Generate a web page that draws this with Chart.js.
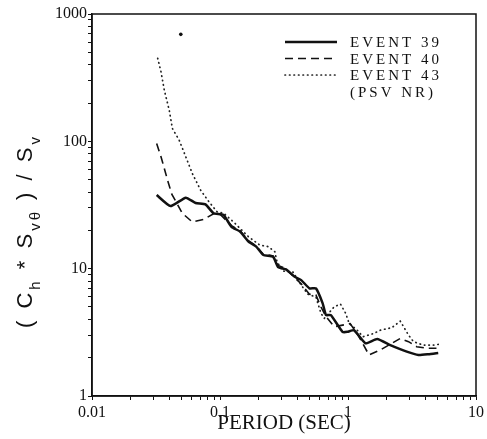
<!DOCTYPE html>
<html>
<head>
<meta charset="utf-8">
<script src="https://cdn.jsdelivr.net/npm/chart.js@4/dist/chart.umd.min.js"></script>
<style>
  html, body { margin: 0; padding: 0; background: #fff; }
  canvas { display: block; }
</style>
</head>
<body>
<canvas id="chart" width="487" height="439"></canvas>
<script>
// values (period in sec, ratio)
const period39 = [0.032, 0.041, 0.054, 0.0645, 0.077, 0.089, 0.1, 0.107, 0.123, 0.144, 0.167, 0.192, 0.218, 0.26, 0.284, 0.328, 0.383, 0.431, 0.5, 0.562, 0.634, 0.673, 0.735, 0.906, 0.989, 1.114, 1.37, 1.69, 2.14, 2.88, 3.55, 4.24, 5.07];
const ratio39 = [37.9, 31.0, 36.1, 32.8, 32.0, 27.2, 26.8, 26.4, 21.3, 19.5, 16.3, 14.9, 12.8, 12.4, 10.3, 9.87, 8.64, 8.13, 7.0, 7.0, 5.34, 4.32, 4.32, 3.19, 3.19, 3.29, 2.59, 2.80, 2.51, 2.23, 2.10, 2.13, 2.18];

const period40 = [0.032, 0.0346, 0.0367, 0.0389, 0.042, 0.0508, 0.0607, 0.0748, 0.089, 0.1, 0.123, 0.144, 0.167, 0.192, 0.218, 0.26, 0.284, 0.328, 0.383, 0.431, 0.5, 0.562, 0.615, 0.673, 0.78, 1.04, 1.2, 1.46, 1.79, 2.56, 2.97, 3.44, 4.11, 4.91];
const ratio40 = [96, 75.7, 61.4, 49.7, 38.5, 27.2, 23.3, 24.4, 27.0, 26.8, 21.8, 19.8, 16.6, 15.0, 13.0, 12.6, 10.6, 10.0, 8.5, 7.6, 6.3, 6.2, 5.0, 4.2, 3.5, 3.7, 3.0, 2.1, 2.3, 2.83, 2.67, 2.44, 2.37, 2.37];

const period43 = [0.0326, 0.0346, 0.0367, 0.0401, 0.0425, 0.048, 0.054, 0.0607, 0.0705, 0.0818, 0.0948, 0.107, 0.128, 0.167, 0.205, 0.238, 0.268, 0.279, 0.311, 0.372, 0.431, 0.485, 0.562, 0.615, 0.653, 0.78, 0.873, 0.959, 1.02, 1.18, 1.31, 1.59, 1.79, 2.2, 2.56, 2.97, 3.25, 3.88, 4.63, 5.07];
const ratio43 = [449, 352, 253, 176, 126, 102, 75.7, 56.1, 41.4, 33.6, 28.0, 27.2, 23.2, 17.8, 15.3, 14.9, 13.6, 11.3, 9.57, 9.4, 7.43, 6.31, 5.98, 4.46, 4.07, 5.02, 5.27, 4.46, 3.72, 3.29, 2.92, 3.10, 3.29, 3.44, 3.87, 3.01, 2.67, 2.51, 2.51, 2.54];

// lone mark near the top
const strayPeriod = [0.0494];
const strayRatio = [692];

const xMajor = [0.01, 0.1, 1, 10];
const xLabels = ['0.01', '0.1', '1', '10'];
const yMajor = [1, 10, 100, 1000];
const yLabels = ['1', '10', '100', '1000'];
const minorSteps = [2, 3, 4, 5, 6, 7, 8, 9];

const legendNote = '(PSV NR)';
const yTitle = [['( C', 0], ['h', 1], [' * S', 0], ['v\u03b8', 1], [' ) / S', 0], ['v', 1]];

const ink = '#111';

function pts(xs, ys) {
  return xs.map((x, i) => ({ x: x, y: ys[i] }));
}

function logTicks(majors) {
  const out = [];
  majors.forEach((d, i) => {
    out.push({ value: d });
    if (i < majors.length - 1) minorSteps.forEach(m => out.push({ value: d * m }));
  });
  return out;
}

function labelFor(v, majors, labels) {
  const i = majors.findIndex(m => Math.abs(Math.log10(v) - Math.log10(m)) < 1e-6);
  return i >= 0 ? labels[i] : '';
}

const framePlugin = {
  id: 'frame',
  afterDraw(chart) {
    const { ctx, chartArea: a } = chart;
    ctx.save();
    ctx.strokeStyle = ink;
    ctx.lineWidth = 1.5;
    ctx.strokeRect(a.left, a.top, a.right - a.left, a.bottom - a.top);
    ctx.restore();
  }
};

const legendPlugin = {
  id: 'boxLegend',
  afterDraw(chart) {
    const ctx = chart.ctx;
    const rows = chart.data.datasets.filter(d => d.label);
    ctx.save();
    ctx.font = '15px "Liberation Serif"';
    ctx.letterSpacing = '3px';
    ctx.fillStyle = ink;
    rows.forEach((ds, i) => {
      const y = 42 + i * 16.5;
      ctx.strokeStyle = ds.borderColor;
      ctx.lineWidth = ds.borderWidth;
      ctx.lineCap = ds.borderCapStyle || 'butt';
      ctx.setLineDash(ds.borderDash || []);
      ctx.beginPath();
      ctx.moveTo(285, y);
      ctx.lineTo(337, y);
      ctx.stroke();
      ctx.fillText(ds.label, 350, y + 5);
    });
    ctx.fillText(legendNote, 350, 42 + rows.length * 16.5 + 5);
    ctx.restore();
  }
};

const yTitlePlugin = {
  id: 'yTitle',
  afterDraw(chart) {
    const ctx = chart.ctx;
    ctx.save();
    ctx.translate(32, 328);
    ctx.rotate(-Math.PI / 2);
    ctx.fillStyle = ink;
    ctx.letterSpacing = '3px';
    ctx.textBaseline = 'alphabetic';
    let u = 0;
    yTitle.forEach(([txt, sub]) => {
      ctx.font = sub ? '15px "Liberation Sans"' : '22px "Liberation Sans"';
      ctx.fillText(txt, u, sub ? 8 : 0);
      u += ctx.measureText(txt).width;
    });
    ctx.restore();
  }
};

const tickFont = { family: 'Liberation Serif', size: 16 };

new Chart(document.getElementById('chart').getContext('2d'), {
  type: 'line',
  data: {
    datasets: [
      { label: 'EVENT 39', data: pts(period39, ratio39), borderColor: ink, borderWidth: 2.5, tension: 0.15, pointRadius: 0, fill: false },
      { label: 'EVENT 40', data: pts(period40, ratio40), borderColor: ink, borderWidth: 1.6, borderDash: [8, 5], pointRadius: 0, fill: false },
      { label: 'EVENT 43', data: pts(period43, ratio43), borderColor: '#222', borderWidth: 1.7, borderDash: [0.5, 4], borderCapStyle: 'round', pointRadius: 0, fill: false },
      { label: '', data: pts(strayPeriod, strayRatio), showLine: false, pointRadius: 1.8, pointBackgroundColor: ink, pointBorderWidth: 0 }
    ]
  },
  options: {
    responsive: false,
    devicePixelRatio: 1,
    animation: false,
    layout: { padding: { top: 14, right: 7, left: 0, bottom: 0 } },
    plugins: { legend: { display: false }, tooltip: { enabled: false } },
    scales: {
      x: {
        type: 'logarithmic',
        min: 0.01,
        max: 10,
        afterBuildTicks: s => { s.ticks = logTicks(xMajor); },
        afterFit: s => { s.height = 43; },
        ticks: { autoSkip: false, maxRotation: 0, padding: 3, font: tickFont, color: ink,
          callback: v => labelFor(v, xMajor, xLabels) },
        grid: { drawOnChartArea: false, drawTicks: true, tickLength: 4, color: ink },
        border: { display: true, color: ink, width: 1.5 },
        title: { display: true, text: 'PERIOD (SEC)', color: ink,
          font: { family: 'Liberation Serif', size: 21 }, padding: { top: 0, bottom: 3 } }
      },
      y: {
        type: 'logarithmic',
        min: 1,
        max: 1000,
        afterBuildTicks: s => { s.ticks = logTicks(yMajor); },
        afterFit: s => { s.width = 92; },
        ticks: { autoSkip: false, padding: 1, font: tickFont, color: ink,
          callback: v => labelFor(v, yMajor, yLabels) },
        grid: { drawOnChartArea: false, drawTicks: true, tickLength: 4, color: ink },
        border: { display: true, color: ink, width: 1.5 }
      }
    }
  },
  plugins: [framePlugin, legendPlugin, yTitlePlugin]
});
</script>
</body>
</html>
